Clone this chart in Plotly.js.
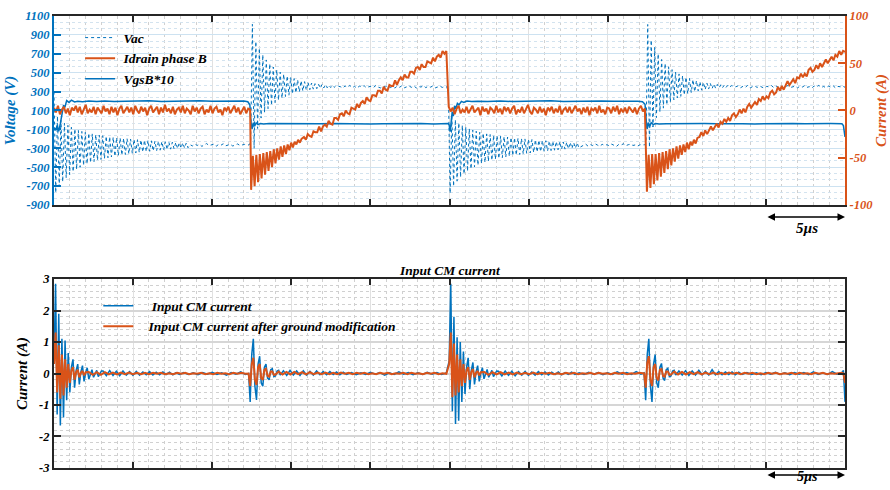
<!DOCTYPE html>
<html><head><meta charset="utf-8">
<script src="https://cdn.plot.ly/plotly-3.0.1.min.js"></script>
<style>html,body{margin:0;padding:0;background:#fff}#chart{width:890px;height:490px}</style>
</head><body><div id="chart"></div>
<script>
// ---------------- DATA (time in µs) ----------------
// Tick labels
const vTickVals = [-900, -700, -500, -300, -100, 100, 300, 500, 700, 900, 1100];
const vTickText = ['-900', '-700', '-500', '-300', '-100', '100', '300', '500', '700', '900', '1100'];
const iTickVals = [-100, -50, 0, 50, 100];
const iTickText = ['-100', '-50', '0', '50', '100'];
const cmTickVals = [-3, -2, -1, 0, 1, 2, 3];
const cmTickText = ['-3', '-2', '-1', '0', '1', '2', '3'];

// Vac (V): ringing and flat stretches, each with its time span [start, end]
const vacRingA = [300, -770, 40, -705, -5, -655, -35, -612, -58, -578,
  -78, -548, -95, -522, -110, -500, -122, -482, -132, -466,
  -140, -452, -148, -440, -155, -428, -161, -418, -167, -409,
  -172, -400, -177, -392, -182, -385, -186, -378, -190, -372,
  -194, -366, -198, -360, -202, -355, -206, -350, -209, -345,
  -212, -340, -215, -336, -218, -332, -221, -328, -224, -324,
  -226, -320, -229, -316, -231, -312, -234, -309, -236, -306,
  -238, -303, -240, -300, -242, -297, -244, -294];
const vacFlatA = [-262, -275, -255, -270, -258, -280, -262, -250, -272, -265, -256, -278, -260, -268, -252, -274, -263, -258, -276, -261, -254, -270, -266, -259, -264];
const vacRingB = [-265, -240, 1012, -300, 830, -90, 760, 20, 690, 80,
  635, 120, 595, 155, 560, 185, 530, 210, 505, 230,
  485, 248, 466, 262, 450, 275, 437, 287, 425, 297,
  415, 306, 405, 314, 397, 320, 390, 326, 384, 331,
  379, 335, 375, 338, 371, 341, 368, 343, 365, 345, 362];
const vacFlatB = [352, 338, 360, 345, 365, 342, 355, 336, 358, 349, 363, 340, 351, 357, 344, 366, 347, 339, 356, 350,
  362, 343, 353, 337, 359, 346, 364, 341, 350, 358, 345, 361, 338, 354, 348, 363, 342, 356, 347, 360,
  340, 352, 357, 344, 354];
const vacRingC = [352, 300, -776, 52, -702, 2, -648, -32, -606, -56,
  -572, -76, -543, -93, -518, -108, -497, -120, -479, -131,
  -463, -140, -450, -148, -438, -155, -427, -161, -417, -166,
  -408, -171, -400, -176, -392, -181, -385, -185, -378, -189,
  -372, -193, -366, -197, -360, -201, -355, -205, -350, -208,
  -345, -211, -340, -214, -336, -217, -332, -220, -328, -223,
  -324, -226, -320, -229, -316, -231, -312, -233, -309, -236,
  -306, -238, -302, -240, -299, -243, -296];
const vacFlatC = [-268, -255, -276, -260, -271, -252, -266, -279, -258, -270, -262, -274, -256, -268, -281, -259, -265, -252, -273, -262, -257, -270, -264, -276, -262];
const vacRingD = [-264, -250, 1010, -290, 845, -75, 770, 25, 700, 85,
  640, 125, 598, 160, 562, 190, 532, 213, 507, 233,
  487, 250, 468, 264, 452, 277, 439, 289, 427, 299,
  416, 308, 406, 315, 398, 321, 391, 327, 385, 332,
  380, 336, 376, 339, 372, 342, 369, 344, 366, 346, 363];
const vacFlatD = [350, 362, 341, 356, 345, 366, 338, 352, 359, 344, 361, 347, 336, 355, 350, 364, 342, 357, 346, 360,
  339, 353, 365, 343, 351, 358, 340, 356, 348, 363, 345, 352, 337, 359, 350, 366, 344, 354, 341, 357,
  348, 362, 339, 355, 351, 358, 346];
const vacSpans = [[0, 8.47], [8.6, 12.2], [12.32, 17.82], [18.1, 24.7], [24.82, 33.18], [33.45, 37.05], [37.31, 42.81], [43.1, 50]];

// VgsB*10 (V): [time, value]
const vgsPts = [[0, -80], [0.1, -110], [0.2, -60], [0.3, -120], [0.4, -40], [0.5, 60], [0.6, 150], [0.7, 140], [0.8, 205], [0.95, 185],
  [1.1, 210], [1.3, 190], [1.5, 198], [1.8, 192], [2.2, 200], [2.7, 196], [3.2, 201], [3.8, 194], [4.5, 199], [5.2, 197],
  [6.0, 202], [6.8, 195], [7.6, 200], [8.4, 198], [9.2, 203], [10.0, 197], [10.8, 201], [11.5, 199], [12.0, 200], [12.25, 192],
  [12.38, 160], [12.45, -20], [12.52, -95], [12.6, -30], [12.68, -65], [12.78, -32], [12.9, -50], [13.05, -37], [13.25, -43], [13.6, -39],
  [14.4, -41], [15.2, -38], [16.0, -42], [16.8, -40], [17.6, -37], [18.4, -41], [19.2, -39], [20.0, -43], [20.8, -40], [21.6, -38],
  [22.4, -41], [23.2, -39], [24.0, -42], [24.6, -40], [24.92, -38], [24.98, -55], [25.04, -125], [25.1, -30], [25.17, 87], [25.24, 40],
  [25.32, 150], [25.4, 118], [25.5, 175], [25.6, 160], [25.75, 196], [25.9, 185], [26.1, 200], [26.4, 194], [26.8, 199], [27.4, 196],
  [28.2, 201], [29.0, 195], [29.8, 200], [30.6, 198], [31.4, 202], [32.2, 196], [33.0, 200], [33.8, 197], [34.6, 201], [35.4, 198],
  [36.2, 200], [36.9, 199], [37.2, 193], [37.36, 165], [37.44, -15], [37.5, -95], [37.57, -28], [37.65, -68], [37.75, -30], [37.88, -50],
  [38.02, -38], [38.25, -43], [38.7, -40], [39.5, -38], [40.3, -42], [41.1, -39], [41.9, -41], [42.7, -37], [43.5, -40], [44.3, -42],
  [45.1, -39], [45.9, -41], [46.7, -38], [47.5, -40], [48.3, -43], [49.1, -39], [49.8, -40], [49.9, -60], [50.0, -180]];

// Idrain phase B (A)
const idFlatA = [3, -2, 5, -4, 1, 4, -3, 2, -5, 3, 0, 5, -2, 4, -4, 2, 6, -3, 1, -2,
  4, -4, 3, 0, -3, 5, -1, 2, -4, 4, -2, 3, -5, 2, 5, -3, 1, 4, -2, 3,
  -4, 5, 0, -3, 4, -1, 3, -5, 2, 5, -2, 1, 4, -4, 3, -2, 6, -1, 2, -3,
  4, -4, 1, 3, -2, 5, -3, 2, 0, -4, 5, -1, 3, -3, 2, 4, -4, 1, -2, 5,
  -3, 2, 4, -2, 1, -5, 3, 0, 4, -3, 2, 5, -2, 3, -4, 1, 4, -3, 2, 1];
const idRingB = [-84, -48, -80, -47, -76, -46, -72, -45, -68, -44, -64, -43, -60, -41, -56, -40, -52, -38, -49, -37,
  -46, -36, -42, -34, -39, -33, -36, -31, -34, -30];
const idRampB = [-28, -31, -25, -27, -28, -22, -23, -23, -17, -22, -17, -15, -17, -11, -14, -15, -8, -8, -10, -4,
  -3, -6, 0, -3, -4, 3, 2, 1, 7, 3, 8, 10, 7, 14, 11, 10, 16, 16, 15, 21,
  21, 18, 25, 22, 21, 27, 26, 26, 32, 27, 32, 35, 32, 38, 35, 35, 41, 41, 39, 45,
  46, 43, 49, 46, 46, 52, 51, 50, 56, 52, 57, 59, 56, 63, 60, 63];
const idFlatC = [4, -1, 3, -4, 2, 5, -3, 1, -2, 4, -3, 2, 5, -2, 0, 3, -5, 4, -1, 2,
  -4, 3, 1, -3, 5, -2, 2, -4, 4, 0, 3, -3, 2, 5, -4, 1, -2, 4, -3, 2,
  6, -1, -4, 3, 1, -3, 4, -2, 2, -5, 3, 0, 4, -3, 2, -2, 5, -4, 1, 3,
  -2, 4, -3, 1, 5, -1, 2, -4, 3, -2, 4, -5, 2, 0, 3, -3, 5, -2, 1, -4,
  3, 2, -3, 4, -1, 5, -4, 2, -2, 3, -3, 4, 1, -2, 3, -4, 2, 5, -1, 2];
const idRingD = [-86, -47, -82, -46, -78, -46, -74, -45, -70, -44, -66, -43, -62, -41, -58, -40, -54, -38, -51, -37,
  -47, -36, -44, -34, -41, -33, -37, -31, -35, -29];
const idRampD = [-28, -23, -27, -21, -25, -20, -17, -21, -18, -14, -18, -12, -14, -9, -12, -8, -11, -5, -3, -7,
  -4, 1, -3, 2, -2, 4, 7, 3, 6, 9, 6, 12, 10, 15, 11, 15, 13, 19, 21, 17,
  19, 25, 21, 26, 22, 27, 31, 27, 30, 33, 29, 35, 34, 39, 35, 39, 36, 43, 45, 41,
  43, 48, 44, 50, 46, 51, 54, 50, 54, 57, 53, 59, 57, 63, 59, 63, 62];
const idSpans = [[0, 12.4], [12.46, 15.65], [15.8, 24.8], [24.95, 37.35], [37.48, 40.67], [40.8, 50]];

// Input CM current (A)
const cmbA = [0.4, 2.85, -1.3, 1.9, -1.65, 1.1, -1.4, 1.05, -0.85, 0.65, -0.6, 0.2, 0.45, -0.45, 0.1, 0.3, -0.35, 0.05, 0.25, -0.25,
  0.02, 0.18, -0.18, 0.0, 0.12, -0.12, 0.0, 0.1, -0.1, 0.02, 0.08];
const cmbRipA = [0.08, -0.07, 0.09, -0.06, 0.07, -0.07, 0.08, -0.05, 0.06, -0.06, 0.07, -0.05, 0.05, -0.04, 0.06, -0.05, 0.04, -0.04, 0.05, -0.03, 0.04, -0.04, 0.03, -0.03];
const cmbFlatA = [0.03, -0.03, 0.02, -0.04, 0.03, -0.02, 0.04, -0.03, 0.02, -0.05, 0.03, -0.02, 0.05, -0.03];
const cmbB = [0.0, -0.9, 0.6, 1.1, -0.4, -0.84, 0.3, 0.55, -0.3, -0.4, 0.2, 0.3, -0.15, -0.2, 0.12, 0.15, -0.1, -0.08, 0.08, 0.1, -0.05];
const cmbRipB = [0.09, -0.06, 0.1, -0.05, 0.08, -0.06, 0.09, -0.05, 0.07, -0.05, 0.08, -0.04, 0.06, -0.04, 0.06, -0.03, 0.05, -0.04, 0.04, -0.03];
const cmbFlatB = [0.03, -0.04, 0.02, -0.03, 0.04, -0.02, 0.03, -0.05, 0.02, -0.03, 0.05, -0.02, 0.03, -0.04, 0.02, -0.03, 0.04, -0.02, 0.03, -0.03, 0.02];
const cmbC = [0.4, 2.85, -1.2, 1.8, -1.6, 1.15, -1.5, 1.0, -0.9, 0.7, -0.65, 0.2, 0.5, -0.5, 0.1, 0.35, -0.35, 0.05, 0.25, -0.25,
  0.02, 0.18, -0.17, 0.0, 0.13, -0.12, 0.0, 0.1, -0.1, 0.02, 0.08];
const cmbRipC = [0.07, -0.08, 0.08, -0.06, 0.07, -0.07, 0.06, -0.05, 0.07, -0.06, 0.05, -0.05, 0.06, -0.04, 0.05, -0.05, 0.04, -0.03, 0.05, -0.04, 0.03, -0.03, 0.04, -0.03];
const cmbFlatC = [0.02, -0.03, 0.04, -0.02, 0.03, -0.04, 0.02, -0.03, 0.05, -0.02, 0.03, -0.03, 0.06, -0.02];
const cmbD = [0.02, -0.85, 0.6, 1.1, -0.4, -0.9, 0.3, 0.6, -0.3, -0.45, 0.2, 0.32, -0.15, -0.22, 0.12, 0.16, -0.1, -0.08, 0.08, 0.1, -0.05];
const cmbRipD = [0.08, -0.05, 0.09, -0.06, 0.08, -0.05, 0.1, -0.04, 0.07, -0.05, 0.12, -0.04, 0.06, -0.04, 0.05, -0.03, 0.05, -0.04, 0.04, -0.03];
const cmbFlatD = [0.03, -0.03, 0.02, -0.04, 0.03, -0.02, 0.04, -0.03, 0.02, -0.04, 0.03, -0.02, 0.03, -0.04, 0.05, -0.03, 0.02, -0.03, 0.06, -0.02, 0.03];
const cmbEnd = [0.1, -0.9];
const cmbSpans = [[0, 3.0], [3.1, 7.93], [8.2, 12.1], [12.3, 14.3], [14.5, 18.49], [18.8, 24.8], [24.98, 27.98], [28.1, 32.93], [33.2, 37.1], [37.3, 39.3], [39.5, 43.49], [43.8, 49.8], [49.9, 50]];

// Input CM current after ground modification (A)
const cmoA = [0.3, 1.3, -0.6, 0.9, -0.8, 0.6, -0.7, 0.45, -0.45, 0.3, -0.3, 0.1, 0.2, -0.2, 0.05, 0.12, -0.12, 0.02, 0.08, -0.06, 0.04];
const cmoQuietA = [0.05, -0.04, 0.04, -0.04, 0.04, -0.03, 0.03, -0.03, 0.03, -0.02, 0.03, -0.02, 0.02, -0.02, 0.02, -0.02, 0.02, -0.01, 0.02, -0.02,
  0.01, -0.02, 0.02, -0.01, 0.02, -0.02, 0.01, -0.01, 0.02, -0.02, 0.01, -0.02, 0.02, -0.01, 0.01, -0.02, 0.02, -0.01, 0.02, -0.01];
const cmoB = [0.0, -0.4, 0.3, 0.5, -0.2, -0.36, 0.2, 0.3, -0.15, -0.2, 0.12, 0.15, -0.08, -0.1, 0.06, 0.06, -0.04, -0.03];
const cmoQuietB = [0.06, -0.03, 0.05, -0.03, 0.05, -0.02, 0.04, -0.03, 0.04, -0.02, 0.03, -0.02, 0.03, -0.02, 0.02, -0.02, 0.03, -0.01, 0.02, -0.02,
  0.02, -0.01, 0.02, -0.02, 0.01, -0.02, 0.02, -0.01, 0.02, -0.02, 0.01, -0.01, 0.02, -0.02, 0.02, -0.01, 0.01, -0.02, 0.02, -0.01, 0.02, -0.02, 0.01, -0.01];
const cmoC = [0.3, 1.3, -0.75, 0.95, -0.7, 0.6, -0.6, 0.45, -0.4, 0.3, -0.3, 0.1, 0.2, -0.2, 0.05, 0.14, -0.12, 0.02, 0.08, -0.06, 0.04];
const cmoQuietC = [0.05, -0.04, 0.04, -0.03, 0.04, -0.03, 0.03, -0.03, 0.03, -0.02, 0.02, -0.02, 0.03, -0.02, 0.02, -0.01, 0.02, -0.02, 0.01, -0.02,
  0.02, -0.01, 0.02, -0.02, 0.01, -0.01, 0.02, -0.02, 0.02, -0.01, 0.01, -0.02, 0.02, -0.01, 0.02, -0.02, 0.01, -0.01, 0.02];
const cmoD = [0.0, -0.45, 0.35, 0.55, -0.2, -0.4, 0.2, 0.3, -0.15, -0.22, 0.12, 0.14, -0.08, -0.1, 0.06, 0.06, -0.04, -0.03];
const cmoQuietD = [0.06, -0.03, 0.05, -0.03, 0.04, -0.02, 0.04, -0.03, 0.03, -0.02, 0.03, -0.02, 0.02, -0.02, 0.03, -0.01, 0.02, -0.02, 0.02, -0.01,
  0.02, -0.02, 0.01, -0.02, 0.02, -0.01, 0.02, -0.02, 0.01, -0.01, 0.02, -0.02, 0.02, -0.01, 0.01, -0.02, 0.02, -0.01, 0.02, -0.02, 0.01, -0.01, 0.02];
const cmoEnd = [0.02, 0.0, -0.3];
const cmoSpans = [[0, 2.0], [2.2, 12.1], [12.3, 14.0], [14.2, 24.8], [24.98, 26.98], [27.2, 37.0], [37.3, 39.0], [39.2, 49.6], [49.8, 50]];

// ---------------- BUILD ----------------
function build(parts, spans) {
  const x = [], y = [];
  parts.forEach((vals, k) => {
    const t0 = spans[k][0], t1 = spans[k][1], n = vals.length;
    vals.forEach((v, i) => { x.push(n > 1 ? t0 + (t1 - t0) * i / (n - 1) : t0); y.push(v); });
  });
  return { x, y };
}
const vac = build([vacRingA, vacFlatA, vacRingB, vacFlatB, vacRingC, vacFlatC, vacRingD, vacFlatD], vacSpans);
const idr = build([idFlatA, idRingB, idRampB, idFlatC, idRingD, idRampD], idSpans);
const cmb = build([cmbA, cmbRipA, cmbFlatA, cmbB, cmbRipB, cmbFlatB, cmbC, cmbRipC, cmbFlatC, cmbD, cmbRipD, cmbFlatD, cmbEnd], cmbSpans);
const cmo = build([cmoA, cmoQuietA, cmoB, cmoQuietB, cmoC, cmoQuietC, cmoD, cmoQuietD, cmoEnd], cmoSpans);

const FONT = 'Liberation Serif, serif';
const BLUE = '#0072BD', ORANGE = '#D95319', DARK = '#262626';
const bi = (size, color) => ({ family: FONT, size: size, color: color, weight: 'bold', style: 'italic' });
const SP = '\u00a0';

const traces = [
  { x: vac.x, y: vac.y, xaxis: 'x', yaxis: 'y', type: 'scatter', mode: 'lines', name: SP + 'Vac', legend: 'legend',
    line: { color: BLUE, width: 1, dash: 'dot' } },
  { x: idr.x, y: idr.y, xaxis: 'x', yaxis: 'y2', type: 'scatter', mode: 'lines', name: SP + 'Idrain phase B', legend: 'legend',
    line: { color: ORANGE, width: 2 } },
  { x: vgsPts.map(p => p[0]), y: vgsPts.map(p => p[1]), xaxis: 'x', yaxis: 'y', type: 'scatter', mode: 'lines', name: SP + 'VgsB*10', legend: 'legend',
    line: { color: BLUE, width: 1.5 } },
  { x: cmb.x, y: cmb.y, xaxis: 'x2', yaxis: 'y3', type: 'scatter', mode: 'lines', name: SP + SP + SP + SP + 'Input CM current', legend: 'legend2',
    line: { color: BLUE, width: 1.5 } },
  { x: cmo.x, y: cmo.y, xaxis: 'x2', yaxis: 'y3', type: 'scatter', mode: 'lines', name: SP + SP + SP + 'Input CM current after ground modification', legend: 'legend2',
    line: { color: ORANGE, width: 2 } }
];

const xBase = {
  range: [0, 50], tickmode: 'linear', tick0: 0, dtick: 5, showticklabels: false,
  ticks: 'inside', ticklen: 6, tickwidth: 2, tickcolor: DARK,
  showline: true, linecolor: DARK, linewidth: 2, mirror: 'ticks',
  showgrid: true, gridcolor: '#e1e1e1', gridwidth: 1, zeroline: false,
  minor: { tickmode: 'linear', tick0: 0, dtick: 1, showgrid: true, gridcolor: '#d0d0d0', griddash: 'dot', gridwidth: 1 }
};

const layout = {
  width: 890, height: 490,
  margin: { l: 54, r: 45, t: 16, b: 22 },
  paper_bgcolor: '#ffffff', plot_bgcolor: '#ffffff',
  showlegend: true,
  xaxis: Object.assign({}, xBase, { domain: [0, 1], anchor: 'y' }),
  yaxis: {
    domain: [0.5819, 1], anchor: 'x', range: [-900, 1100],
    tickmode: 'array', tickvals: vTickVals, ticktext: vTickText,
    ticks: 'inside', ticklen: 7, tickwidth: 2, tickcolor: BLUE,
    showline: true, linecolor: BLUE, linewidth: 2,
    tickfont: bi(12.5, BLUE), zeroline: false,
    showgrid: true, gridcolor: '#cde2f1', gridwidth: 1,
    minor: { tickmode: 'linear', tick0: -900, dtick: 200 / 3, showgrid: true, gridcolor: '#d3e3ef', griddash: 'dot', gridwidth: 1 },
    title: { text: 'Voltage (V)', font: bi(15, BLUE), standoff: 6 }
  },
  yaxis2: {
    overlaying: 'y', side: 'right', anchor: 'x', range: [-100, 100],
    tickmode: 'array', tickvals: iTickVals, ticktext: iTickText,
    ticks: 'inside', ticklen: 7, tickwidth: 2, tickcolor: ORANGE,
    showline: true, linecolor: ORANGE, linewidth: 2,
    tickfont: bi(12.5, ORANGE), zeroline: false, showgrid: false,
    title: { text: 'Current (A)', font: bi(15, ORANGE), standoff: 6 }
  },
  xaxis2: Object.assign({}, xBase, { domain: [0, 1], anchor: 'y3' }),
  yaxis3: {
    domain: [0, 0.4181], anchor: 'x2', range: [-3, 3],
    tickmode: 'array', tickvals: cmTickVals, ticktext: cmTickText,
    ticks: 'inside', ticklen: 7, tickwidth: 2, tickcolor: DARK,
    showline: true, linecolor: DARK, linewidth: 2, mirror: 'ticks',
    tickfont: bi(12.5, '#000'), zeroline: false,
    showgrid: true, gridcolor: '#d6d6d6', gridwidth: 2,
    minor: { tickmode: 'linear', tick0: -3, dtick: 0.2, showgrid: true, gridcolor: '#d0d0d0', griddash: 'dot', gridwidth: 1 },
    title: { text: 'Current (A)', font: bi(15, '#000'), standoff: 8 }
  },
  legend: {
    x: 0.033, y: 0.986, xanchor: 'left', yanchor: 'top', bgcolor: 'rgba(0,0,0,0)', borderwidth: 0,
    font: bi(13.5, '#000'), itemwidth: 30, tracegroupgap: 0
  },
  legend2: {
    x: 0.056, y: 0.393, xanchor: 'left', yanchor: 'top', bgcolor: 'rgba(0,0,0,0)', borderwidth: 0,
    font: bi(13.5, '#000'), itemwidth: 30, tracegroupgap: 0
  },
  annotations: [
    { text: 'Input CM current', xref: 'paper', yref: 'paper', x: 0.5, y: 0.438, showarrow: false, font: bi(13.5, '#000') },
    { text: '', xref: 'x', yref: 'paper', x: 50, y: 0.5553, ax: -79, ay: 0, showarrow: true, arrowside: 'end+start',
      arrowhead: 2, startarrowhead: 2, arrowsize: 1, startarrowsize: 1, arrowwidth: 1.5, arrowcolor: '#000' },
    { text: '5µs', xref: 'x', yref: 'paper', x: 47.6, y: 0.531, showarrow: false, font: bi(15, '#000') },
    { text: '', xref: 'x2', yref: 'paper', x: 50, y: -0.0155, ax: -79, ay: 0, showarrow: true, arrowside: 'end+start',
      arrowhead: 2, startarrowhead: 2, arrowsize: 1, startarrowsize: 1, arrowwidth: 1.5, arrowcolor: '#000' },
    { text: '5µs', xref: 'x2', yref: 'paper', x: 47.6, y: -0.040, showarrow: false, font: bi(14, '#000') }
  ]
};

Plotly.newPlot('chart', traces, layout, { staticPlot: true, displayModeBar: false });
</script></body></html>
